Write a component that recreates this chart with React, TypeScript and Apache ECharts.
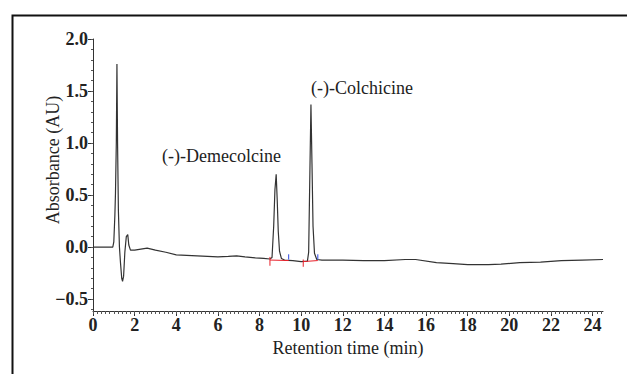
import React, { useEffect, useRef } from "react";
import * as echarts from "echarts";

// Chromatogram trace: [retention time (min), absorbance (AU)]
const trace: [number, number][] = [
  [0, 0], [0.95, 0], [1.0, 0.05], [1.05, 0.3], [1.08, 0.52], [1.12, 1.0], [1.15, 1.76],
  [1.18, 1.0], [1.22, 0.35], [1.27, 0.0], [1.32, -0.15], [1.38, -0.3], [1.42, -0.33],
  [1.47, -0.28], [1.53, -0.05], [1.6, 0.1], [1.67, 0.12], [1.72, 0.02], [1.8, -0.03],
  [2.0, -0.03], [2.3, -0.02], [2.6, -0.01], [3.0, -0.03], [3.5, -0.05], [4.0, -0.075],
  [4.5, -0.08], [5.0, -0.085], [5.5, -0.09], [6.0, -0.095], [6.5, -0.09], [6.9, -0.085],
  [7.3, -0.095], [7.8, -0.105], [8.2, -0.11], [8.5, -0.115], [8.6, -0.1], [8.68, 0.2],
  [8.74, 0.55], [8.8, 0.7], [8.85, 0.45], [8.9, 0.15], [8.96, -0.04], [9.05, -0.11],
  [9.2, -0.125], [9.6, -0.13], [10.0, -0.14], [10.3, -0.135], [10.36, -0.05], [10.41, 0.6],
  [10.47, 1.37], [10.52, 0.8], [10.57, 0.2], [10.64, -0.06], [10.75, -0.12], [11.0, -0.125],
  [12.0, -0.125], [13.0, -0.13], [14.0, -0.13], [15.0, -0.12], [15.5, -0.12], [16.5, -0.15],
  [17.3, -0.16], [18.0, -0.17], [19.0, -0.17], [19.6, -0.165], [20.5, -0.15], [21.5, -0.145],
  [22.5, -0.13], [23.5, -0.125], [24.5, -0.12],
];

// Integration markers (peak start = red, peak end = blue)
const redMarks: any[] = [
  [8.5, -0.095], [8.5, -0.18], [8.5, "-"], [8.5, -0.125], [9.4, -0.13], [9.4, "-"],
  [10.1, -0.12], [10.1, -0.19], [10.1, "-"], [10.1, -0.14], [10.8, -0.13],
];
const blueMarks: any[] = [
  [9.4, -0.07], [9.4, -0.12], [9.4, "-"], [10.8, -0.07], [10.8, -0.12],
];

const yLabels = [-0.5, 0, 0.5, 1.0, 1.5, 2.0];
const xLabels = [0, 2, 4, 6, 8, 10, 12, 14, 16, 18, 20, 22, 24];
const yMinor: number[] = [];
for (let i = -6; i <= 20; i++) yMinor.push(Math.round(i * 10) / 100);
const xMinor: number[] = [];
for (let i = 0; i <= 122; i++) xMinor.push(Math.round(i * 20) / 100);

const peakNames = ["(-)-Demecolcine", "(-)-Colchicine"];

export default function App() {
  const ref = useRef<HTMLDivElement>(null);
  useEffect(() => {
    document.body.style.margin = "0";
    const chart = echarts.init(ref.current!, null, { renderer: "svg" });
    const font = "Liberation Serif";
    const axisColor = "#333";
    const yMin = -0.615;
    const yMax = 2.0;
    const xMin = 0;
    const xMax = 24.5;
    chart.setOption({
      animation: false,
      backgroundColor: "#ffffff",
      grid: { left: 93, right: 24, top: 39, bottom: 63 },
      xAxis: [
        {
          type: "value",
          min: xMin,
          max: xMax,
          position: "bottom",
          axisLine: { show: true, onZero: false, lineStyle: { color: axisColor, width: 1 } },
          axisTick: { show: true, customValues: xLabels, length: 5, inside: false, lineStyle: { color: axisColor } },
          axisLabel: {
            customValues: xLabels,
            fontFamily: font,
            fontSize: 18,
            fontWeight: "bold",
            color: "#222",
            margin: 5,
            formatter: (v: number) => String(v),
          },
          splitLine: { show: false },
          name: "Retention time (min)",
          nameLocation: "middle",
          nameGap: 28,
          nameTextStyle: { fontFamily: font, fontSize: 18, color: "#222" },
        },
        {
          type: "value",
          min: xMin,
          max: xMax,
          position: "bottom",
          axisLine: { show: false, onZero: false },
          axisTick: { show: true, customValues: xMinor, length: 3, lineStyle: { color: "#555" } },
          axisLabel: { show: false },
          splitLine: { show: false },
        },
      ],
      yAxis: [
        {
          type: "value",
          min: yMin,
          max: yMax,
          axisLine: { show: true, onZero: false, lineStyle: { color: axisColor, width: 1 } },
          axisTick: { show: true, customValues: yLabels, length: 5, lineStyle: { color: axisColor } },
          axisLabel: {
            customValues: yLabels,
            fontFamily: font,
            fontSize: 18,
            fontWeight: "bold",
            color: "#222",
            margin: 5,
            formatter: (v: number) => (v < 0 ? "\u2212" + Math.abs(v).toFixed(1) : v.toFixed(1)),
          },
          splitLine: { show: false },
        },
        {
          type: "value",
          min: yMin,
          max: yMax,
          position: "left",
          axisLine: { show: false, onZero: false },
          axisTick: { show: true, customValues: yMinor, length: 2, lineStyle: { color: "#555" } },
          axisLabel: { show: false },
          splitLine: { show: false },
        },
      ],
      graphic: [
        {
          type: "rect",
          left: 10,
          top: 13,
          shape: { width: 640, height: 400 },
          style: { fill: "none", stroke: "#111", lineWidth: 2 },
          silent: true,
        },
        {
          type: "text",
          x: 53,
          y: 160,
          rotation: Math.PI / 2,
          style: {
            text: "Absorbance (AU)",
            fontFamily: font,
            fontSize: 18,
            fill: "#222",
            align: "center",
            verticalAlign: "middle",
          },
        },
        {
          type: "text",
          x: 162,
          y: 156,
          style: { text: peakNames[0], fontFamily: font, fontSize: 18, fill: "#222", align: "left", verticalAlign: "middle" },
        },
        {
          type: "text",
          x: 311,
          y: 88,
          style: { text: peakNames[1], fontFamily: font, fontSize: 18, fill: "#222", align: "left", verticalAlign: "middle" },
        },
      ],
      series: [
        {
          type: "line",
          data: trace,
          showSymbol: false,
          symbol: "none",
          lineStyle: { color: "#333", width: 1.2 },
          xAxisIndex: 0,
          yAxisIndex: 0,
          z: 3,
        },
        {
          type: "line",
          data: redMarks,
          showSymbol: false,
          symbol: "none",
          connectNulls: false,
          lineStyle: { color: "#e8202a", width: 1 },
          z: 4,
        },
        {
          type: "line",
          data: blueMarks,
          showSymbol: false,
          symbol: "none",
          connectNulls: false,
          lineStyle: { color: "#2c46e0", width: 1 },
          z: 4,
        },
      ],
    });
    return () => chart.dispose();
  }, []);
  return <div ref={ref} style={{ width: 627, height: 374 }} />;
}
